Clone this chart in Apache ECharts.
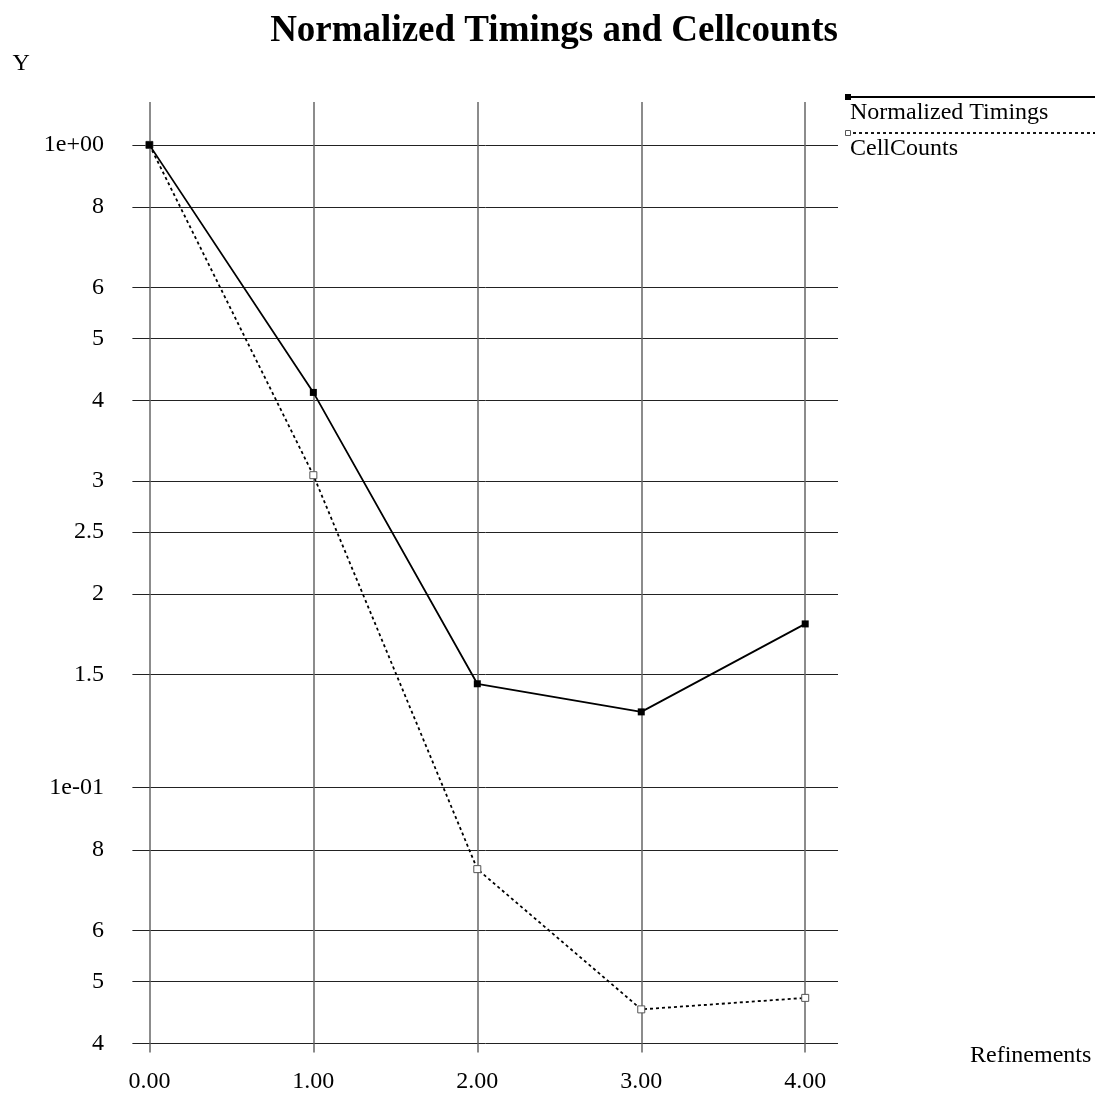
<!DOCTYPE html>
<html>
<head>
<meta charset="utf-8">
<script src="https://cdn.jsdelivr.net/npm/echarts@6/dist/echarts.min.js"></script>
<style>html,body{margin:0;padding:0;background:#fff}#c{width:1108px;height:1099px}</style>
</head>
<body>
<div id="c"></div>
<script>
const refinements = [0, 1, 2, 3, 4];
const normalizedTimings = [1.0, 0.412, 0.1451, 0.1312, 0.1798];
const cellCounts = [1.0, 0.3063, 0.0747, 0.0452, 0.0471];
const xTicks = [0, 1, 2, 3, 4];
const yTicks = [0.04, 0.05, 0.06, 0.08, 0.1, 0.15, 0.2, 0.25, 0.3, 0.4, 0.5, 0.6, 0.8, 1];
const yTickLabels = ['4', '5', '6', '8', '1e-01', '1.5', '2', '2.5', '3', '4', '5', '6', '8', '1e+00'];

const FONT = '"Liberation Serif", "DejaVu Serif", serif';

function yLabel(v) {
  for (let i = 0; i < yTicks.length; i++) {
    if (Math.abs(yTicks[i] - v) / yTicks[i] < 1e-6) return yTickLabels[i];
  }
  return '';
}

const chart = echarts.init(document.getElementById('c'), null, {renderer: 'canvas'});
const option = {
  backgroundColor: '#fff',
  animation: false,
  title: {
    text: 'Normalized Timings and Cellcounts',
    left: 'center',
    top: 8,
    textStyle: {fontFamily: FONT, fontSize: 37, fontWeight: 'bold', color: '#000'}
  },
  grid: {left: 133, right: 270, top: 102, bottom: 55.5, containLabel: false, outerBoundsMode: 'none'},
  xAxis: {
    type: 'value',
    min: -0.1,
    max: 4.2,
    name: 'Refinements',
    nameLocation: 'end',
    nameGap: 132,
    nameTextStyle: {fontFamily: FONT, fontSize: 24, color: '#000', verticalAlign: 'top', padding: [0, 0, 0, 0]},
    axisLine: {show: false},
    axisTick: {show: true, length: 9, customValues: xTicks, lineStyle: {color: '#666', width: 1.5}},
    axisLabel: {customValues: xTicks, margin: 26, fontFamily: FONT, fontSize: 24, color: '#000',
      formatter: v => Number(v).toFixed(2)},
    splitLine: {show: true, lineStyle: {color: '#666', width: 1.5}}
  },
  yAxis: {
    type: 'log',
    logBase: 10,
    min: 0.04,
    max: 1.166,
    name: 'Y',
    nameLocation: 'end',
    nameGap: 26,
    nameTextStyle: {fontFamily: FONT, fontSize: 24, color: '#000', align: 'left', padding: [0, 0, 0, -137]},
    axisLine: {show: false},
    axisTick: {show: true, length: 17, customValues: yTicks, lineStyle: {color: '#222', width: 1}},
    axisLabel: {customValues: yTicks, margin: 29, fontFamily: FONT, fontSize: 24, color: '#000',
      formatter: v => yLabel(v)},
    splitLine: {show: true, lineStyle: {color: '#222', width: 1}}
  },
  graphic: [
    {type: 'line', shape: {x1: 847, y1: 97, x2: 1095, y2: 97}, style: {stroke: '#000', lineWidth: 1.8}},
    {type: 'rect', shape: {x: 845, y: 94, width: 6, height: 6}, style: {fill: '#000'}},
    {type: 'text', left: 850, top: 101, style: {text: 'Normalized Timings', font: '24px ' + FONT, fill: '#000'}},
    {type: 'line', shape: {x1: 847, y1: 133, x2: 1095, y2: 133}, style: {stroke: '#000', lineWidth: 1.8, lineDash: [3, 3]}},
    {type: 'rect', shape: {x: 845.5, y: 130.5, width: 5, height: 5}, style: {fill: '#fff', stroke: '#555', lineWidth: 1}},
    {type: 'text', left: 850, top: 137, style: {text: 'CellCounts', font: '24px ' + FONT, fill: '#000'}}
  ],
  series: [
    {
      name: 'CellCounts',
      type: 'line',
      data: refinements.map((x, i) => [x, cellCounts[i]]),
      symbol: 'rect',
      symbolSize: 7,
      itemStyle: {color: '#fff', borderColor: '#555', borderWidth: 1},
      lineStyle: {color: '#000', width: 1.8, type: [3, 3]},
      z: 3
    },
    {
      name: 'Normalized Timings',
      type: 'line',
      data: refinements.map((x, i) => [x, normalizedTimings[i]]),
      symbol: 'rect',
      symbolSize: 7,
      itemStyle: {color: '#000'},
      lineStyle: {color: '#000', width: 1.8, type: 'solid'},
      z: 4
    }
  ]
};
chart.setOption(option);
</script>
</body>
</html>
